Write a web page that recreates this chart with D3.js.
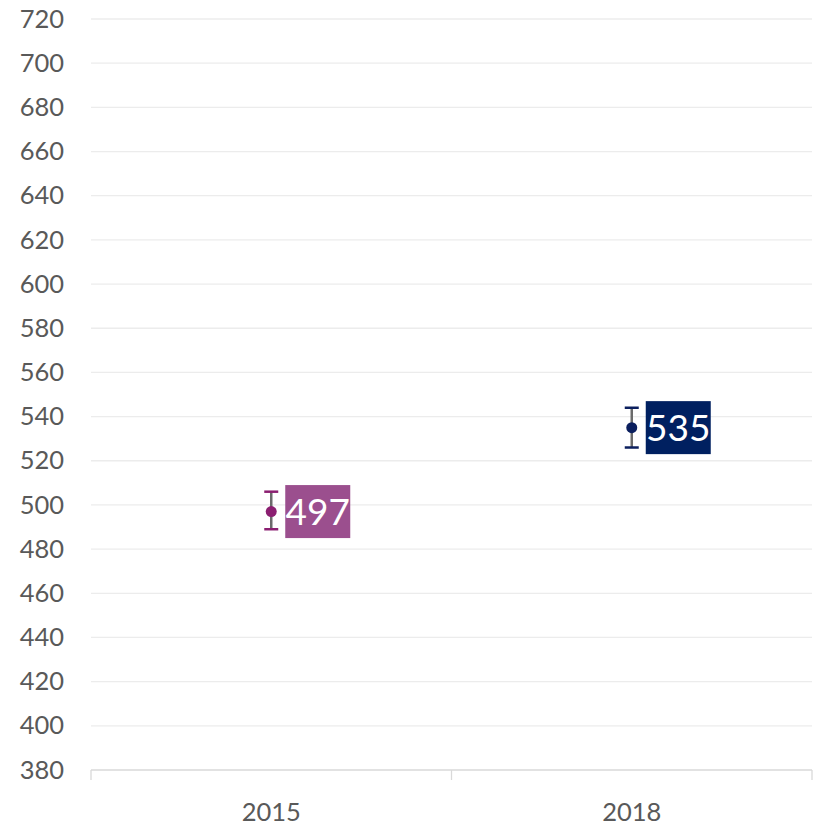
<!DOCTYPE html>
<html><head><meta charset="utf-8">
<script src="https://cdn.jsdelivr.net/npm/d3@7"></script>
<style>body{margin:0;background:#fff}svg{display:block}</style>
</head><body>
<svg id="c" width="819" height="829"></svg>
<script>
const categories = ["2015", "2018"];
const values = [497, 535];
const errLow = [489, 526];
const errHigh = [506, 544];
const yTicks = [380,400,420,440,460,480,500,520,540,560,580,600,620,640,660,680,700,720];
const markColors = ["#8B1F71", "#0B1F5E"];
const boxColors = ["#9B4F8E", "#002060"];

(function(){
const svg = d3.select("#c");
const font = "Lato, 'Open Sans', sans-serif";
const mLeft = 91, mRight = 812, mTop = 19, mBottom = 770;
const y = d3.scaleLinear().domain([380, 720]).range([mBottom, mTop]);
const x = d3.scaleBand().domain(categories).range([mLeft, mRight]);

// gridlines
svg.append("g").selectAll("line").data(yTicks.slice(1)).join("line")
  .attr("x1", mLeft).attr("x2", mRight)
  .attr("y1", d => y(d)).attr("y2", d => y(d))
  .attr("stroke", "#ececec").attr("stroke-width", 1.3);

// y axis labels
const yAxis = d3.axisLeft(y).tickValues(yTicks).tickSize(0).tickPadding(0);
const gy = svg.append("g").attr("transform", "translate(64,0)").call(yAxis);
gy.select(".domain").remove();
gy.selectAll("text").attr("font-family", font).attr("font-size", 25.5).attr("fill", "#595959");

// x axis
const xAxis = d3.axisBottom(x).tickSize(0).tickPadding(0);
const gx = svg.append("g").attr("transform", `translate(0,${mBottom})`).call(xAxis);
gx.select(".domain").attr("stroke", "#d9d9d9").attr("stroke-width", 1.3).attr("d", `M${mLeft},0H${mRight}`);
gx.selectAll("text").attr("font-family", font).attr("font-size", 25.5).attr("fill", "#595959").attr("dy", 0).attr("y", 51);
// category boundary ticks
const bounds = [mLeft, mLeft + x.step(), mRight];
svg.append("g").selectAll("line").data(bounds).join("line")
  .attr("x1", d => d).attr("x2", d => d).attr("y1", mBottom).attr("y2", mBottom + 10)
  .attr("stroke", "#d9d9d9").attr("stroke-width", 1.3);

// points
const g = svg.append("g");
categories.forEach((c, i) => {
  const cx = x(c) + x.bandwidth() / 2;
  g.append("line").attr("x1", cx).attr("x2", cx)
    .attr("y1", y(errLow[i])).attr("y2", y(errHigh[i]))
    .attr("stroke", "#6b6b6b").attr("stroke-width", 2.5);
  [errLow[i], errHigh[i]].forEach(v => {
    g.append("line").attr("x1", cx - 7).attr("x2", cx + 7)
      .attr("y1", y(v)).attr("y2", y(v))
      .attr("stroke", markColors[i]).attr("stroke-width", 2.5);
  });
  g.append("circle").attr("cx", cx).attr("cy", y(values[i])).attr("r", 5.5).attr("fill", markColors[i]);
  const bx = cx + 14, bw = 65, bh = 53;
  g.append("rect").attr("x", bx).attr("y", y(values[i]) - bh / 2).attr("width", bw).attr("height", bh)
    .attr("fill", boxColors[i]);
  g.append("text").attr("x", bx + bw / 2).attr("y", y(values[i]))
    .attr("dy", "0.36em").attr("text-anchor", "middle")
    .attr("font-family", font).attr("font-size", 37).attr("fill", "#fff")
    .text(values[i]);
});
})();
</script>
</body></html>
